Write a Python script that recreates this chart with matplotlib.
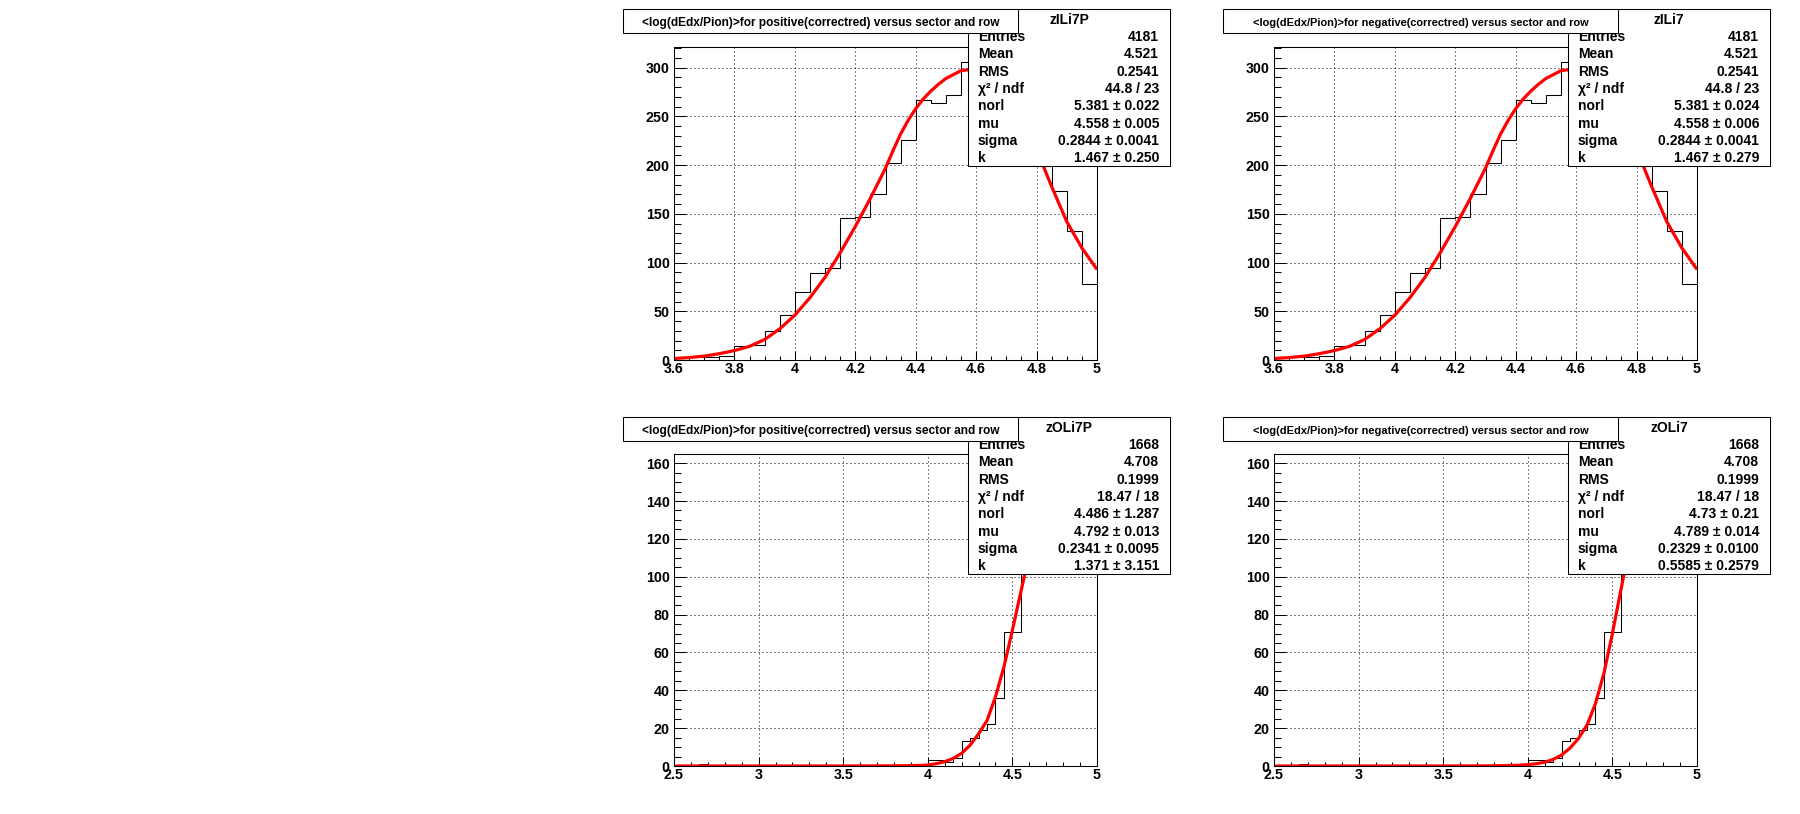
import numpy as np
import matplotlib.pyplot as plt
from matplotlib.patches import Rectangle
from matplotlib.lines import Line2D
from matplotlib.ticker import MultipleLocator, FuncFormatter

plt.rcParams['font.family'] = ['Liberation Sans', 'DejaVu Sans']
plt.rcParams['font.weight'] = 'bold'

W, H = 1800, 814

# ---- data ----
# inner rows (zI...): 0.05 wide bins from 3.6 to 5.0
inner_lo, inner_hi = 3.6, 5.0
inner_counts = [2, 3, 3, 4, 14, 15, 30, 46, 70, 89, 94, 146, 147, 170,
                202, 226, 267, 264, 272, 306, 304, 300, 290, 265, 230,
                173, 132, 78]
inner_fit_x = [3.6, 3.65, 3.7, 3.75, 3.8, 3.85, 3.9, 3.95, 4.0, 4.05, 4.1,
               4.15, 4.2, 4.25, 4.3, 4.325, 4.35, 4.375, 4.4, 4.425, 4.45,
               4.475, 4.5, 4.55, 4.6, 4.65, 4.7, 4.75, 4.8, 4.85, 4.9, 4.95,
               5.0]
inner_fit_y = [1.5, 2.5, 4, 6.5, 9.7, 14, 21, 32, 46, 64, 85, 110, 137, 166,
               197, 215, 232, 246, 258, 268, 276, 283, 289, 297, 299, 294,
               280, 257, 216, 178, 142, 115, 93]

# outer rows (zO...): 0.05 wide bins from 2.5 to 5.0
outer_lo, outer_hi = 2.5, 5.0
outer_counts = [0, 0, 0, 1, 0, 0, 0, 0, 0, 0,
                0, 0, 0, 0, 0, 0, 0, 0, 0, 0,
                0, 0, 0, 0, 0, 0, 0, 0, 0, 0,
                3, 3, 2, 4, 13, 15, 19, 22, 36, 71,
                71, 140, 155, 157, 156, 157, 156, 155, 157, 156]
outer_fit_x = [2.5, 3.0, 3.5, 3.8, 3.9, 3.95, 4.0, 4.05, 4.1, 4.15, 4.2,
               4.25, 4.3, 4.35, 4.4, 4.45, 4.5, 4.55, 4.6, 4.65, 4.7, 4.75,
               4.8, 4.85, 4.9, 4.95, 5.0]
outerP_fit_y = [0, 0, 0, 0.1, 0.2, 0.3, 0.5, 1.2, 2.3, 4, 6.7, 11, 17, 24,
                36.6, 52.4, 71.8, 92, 112, 130, 144, 153, 157, 157, 153, 147,
                138]
outerN_fit_y = [0, 0, 0, 0.1, 0.3, 0.4, 0.7, 1.2, 2, 3.5, 5.8, 9.5, 14.6,
                21.6, 33, 49, 70, 93, 115, 133, 146, 154, 157, 156, 152, 146,
                138]

stat_names = ['Entries', 'Mean', 'RMS', 'χ² / ndf', 'norl', 'mu', 'sigma', 'k']

title_pos = '<log(dEdx/Pion)>for positive(correctred) versus sector and row'
title_neg = '<log(dEdx/Pion)>for negative(correctred) versus sector and row'

stats_zILi7P = ['4181', '4.521', '0.2541', '44.8 / 23', '5.381 ± 0.022',
                '4.558 ± 0.005', '0.2844 ± 0.0041', '1.467 ± 0.250']
stats_zILi7 = ['4181', '4.521', '0.2541', '44.8 / 23', '5.381 ± 0.024',
               '4.558 ± 0.006', '0.2844 ± 0.0041', '1.467 ± 0.279']
stats_zOLi7P = ['1668', '4.708', '0.1999', '18.47 / 18', '4.486 ± 1.287',
                '4.792 ± 0.013', '0.2341 ± 0.0095', '1.371 ± 3.151']
stats_zOLi7 = ['1668', '4.708', '0.1999', '18.47 / 18', '4.73 ± 0.21',
               '4.789 ± 0.014', '0.2329 ± 0.0100', '0.5585 ± 0.2579']


def fx(x):
    return x / W


def fy(y):
    return 1 - y / H


fig = plt.figure(figsize=(18, 8.14), dpi=100)

panels = [
    # col, row, title, title size, name, stats, counts, lo, hi, fit x, fit y
    (0, 0, title_pos, 8.6, 'zILi7P', stats_zILi7P, inner_counts, inner_lo, inner_hi, inner_fit_x, inner_fit_y),
    (1, 0, title_neg, 7.9, 'zILi7', stats_zILi7, inner_counts, inner_lo, inner_hi, inner_fit_x, inner_fit_y),
    (0, 1, title_pos, 8.6, 'zOLi7P', stats_zOLi7P, outer_counts, outer_lo, outer_hi, outer_fit_x, outerP_fit_y),
    (1, 1, title_neg, 7.9, 'zOLi7', stats_zOLi7, outer_counts, outer_lo, outer_hi, outer_fit_x, outerN_fit_y),
]

ax_top = [47, 454]
ax_bot = [360, 766]
box_top = [9, 417]

for col, row, title, tsize, name, stats, counts, lo, hi, fit_x, fit_y in panels:
    dx = 600 * col
    x0, x1 = 674 + dx, 1097 + dx
    y0, y1 = ax_top[row], ax_bot[row]
    ax = fig.add_axes([fx(x0), fy(y1), (x1 - x0) / W, (y1 - y0) / H])

    edges = np.linspace(lo, hi, len(counts) + 1)
    ax.stairs(counts, edges, color='black', linewidth=0.75, baseline=None)
    ax.plot(fit_x, fit_y, color='red', linewidth=2.3, solid_capstyle='butt',
            solid_joinstyle='round')

    ax.set_xlim(lo, hi)
    ax.set_ylim(0, max(counts) * 1.05)
    if row == 0:
        ax.xaxis.set_major_locator(MultipleLocator(0.2))
        ax.xaxis.set_minor_locator(MultipleLocator(0.05))
        ax.yaxis.set_major_locator(MultipleLocator(50))
        ax.yaxis.set_minor_locator(MultipleLocator(10))
    else:
        ax.xaxis.set_major_locator(MultipleLocator(0.5))
        ax.xaxis.set_minor_locator(MultipleLocator(0.1))
        ax.yaxis.set_major_locator(MultipleLocator(20))
        ax.yaxis.set_minor_locator(MultipleLocator(5))
    fmt = FuncFormatter(lambda v, p: '%g' % round(v, 6))
    ax.xaxis.set_major_formatter(fmt)
    ax.yaxis.set_major_formatter(fmt)
    ax.tick_params(axis='both', which='both', direction='in', top=False,
                   right=False, width=0.75, labelsize=10.3)
    ax.tick_params(axis='y', which='major', length=8.6, pad=3)
    ax.tick_params(axis='y', which='minor', length=5)
    ax.tick_params(axis='x', which='major', length=6.2, pad=1.5)
    ax.tick_params(axis='x', which='minor', length=3.2)
    for lab in ax.get_xticklabels() + ax.get_yticklabels():
        lab.set_fontweight('bold')
    ax.grid(True, which='major', color='black', linestyle=(0, (1, 3)),
            linewidth=0.72)
    for sp in ax.spines.values():
        sp.set_linewidth(0.75)

    # stats box
    by = box_top[row]
    sx0, sx1 = 968 + dx, 1170 + dx
    fig.patches.append(Rectangle((fx(sx0), fy(by + 157)), (sx1 - sx0) / W, 157 / H,
                                 transform=fig.transFigure, facecolor='white',
                                 edgecolor='black', linewidth=0.75, zorder=5))
    fig.lines.append(Line2D([fx(sx0), fx(sx1)], [fy(by + 18), fy(by + 18)],
                            transform=fig.transFigure, color='black',
                            linewidth=0.75, zorder=5))
    fig.text(fx((sx0 + sx1) / 2), fy(by + 15), name, ha='center',
             va='baseline', fontsize=10, fontweight='bold', zorder=6)
    for i, (lab, val) in enumerate(zip(stat_names, stats)):
        yb = by + 32 + 17.3 * i
        fig.text(fx(sx0 + 10), fy(yb), lab, ha='left', va='baseline',
                 fontsize=10, fontweight='bold', zorder=6)
        fig.text(fx(sx1 - 11), fy(yb), val, ha='right', va='baseline',
                 fontsize=10, fontweight='bold', zorder=6)

    # title box
    tx0, tx1 = 623 + dx, 1018 + dx
    fig.patches.append(Rectangle((fx(tx0), fy(by + 24)), (tx1 - tx0) / W, 24 / H,
                                 transform=fig.transFigure, facecolor='white',
                                 edgecolor='black', linewidth=0.75, zorder=7))
    fig.text(fx((tx0 + tx1) / 2), fy(by + 17), title, ha='center',
             va='baseline', fontsize=tsize, fontweight='bold', zorder=8)

fig.savefig('out.png', dpi=100)
